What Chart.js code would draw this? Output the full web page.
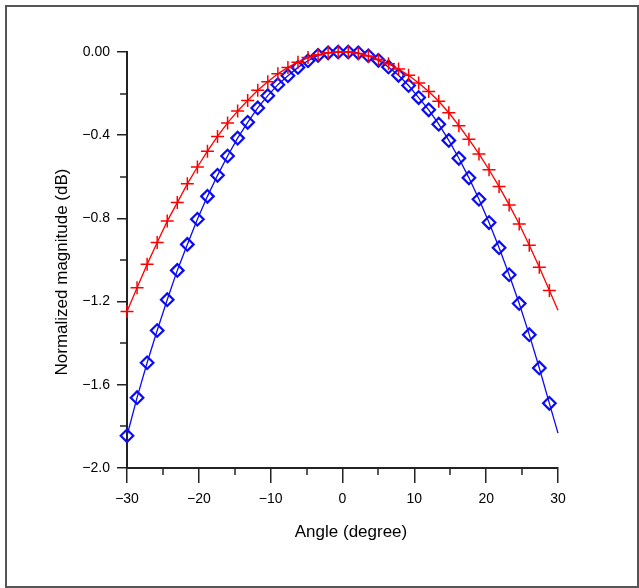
<!DOCTYPE html>
<html>
<head>
<meta charset="utf-8">
<script src="https://cdn.jsdelivr.net/npm/chart.js@4"></script>
<style>
  html, body { margin: 0; padding: 0; background: #fff; }
  #wrap { width: 639px; height: 588px; }
</style>
</head>
<body>
<div id="wrap"><canvas id="chart" width="639" height="588"></canvas></div>
<script>
// marker angles (degree)
const angles = [-30, -28.6, -27.2, -25.8, -24.4, -23, -21.6, -20.2, -18.8, -17.4, -16, -14.6, -13.2, -11.8, -10.4, -9, -7.6, -6.2, -4.8, -3.4, -2, -0.6,
                0.8, 2.2, 3.6, 5, 6.4, 7.8, 9.2, 10.6, 12, 13.4, 14.8, 16.2, 17.6, 19, 20.4, 21.8, 23.2, 24.6, 26, 27.4, 28.8];
// red curve (+ markers)
const redValues = [-1.248, -1.133, -1.021, -0.916, -0.813, -0.724, -0.634, -0.553, -0.477, -0.406, -0.341, -0.284, -0.233, -0.184, -0.143, -0.105, -0.074, -0.049, -0.027, -0.013, -0.004, 0.000,
                   0.000, -0.007, -0.019, -0.036, -0.057, -0.082, -0.112, -0.149, -0.190, -0.237, -0.292, -0.354, -0.420, -0.490, -0.566, -0.647, -0.735, -0.827, -0.929, -1.035, -1.147];
// blue curve (diamond markers)
const blueValues = [-1.845, -1.662, -1.494, -1.339, -1.191, -1.050, -0.925, -0.804, -0.694, -0.593, -0.500, -0.414, -0.338, -0.269, -0.210, -0.157, -0.114, -0.074, -0.042, -0.016, -0.004, 0.000,
                    0.000, -0.004, -0.018, -0.040, -0.072, -0.112, -0.161, -0.219, -0.278, -0.347, -0.425, -0.511, -0.605, -0.708, -0.820, -0.941, -1.071, -1.209, -1.359, -1.519, -1.689];
// curves continue to the axis end without a marker
const endAngle = 30;
const redEnd = -1.242;
const blueEnd = -1.832;

const xMinorTicks = [-25, -15, -5, 5, 15, 25];
const yMinorTicks = [-0.2, -0.6, -1.0, -1.4, -1.8];

const FONT = "'Liberation Sans', Arial, sans-serif";
const minus = s => String(s).replace('-', '\u2212');

function series(values, last) {
    const pts = angles.map((a, i) => ({ x: a, y: values[i] }));
    pts.push({ x: endAngle, y: last });
    return pts;
}
const radii = r => angles.map(() => r).concat([0]);

// frame, minor ticks and axis titles
const extras = {
    id: 'extras',
    beforeDraw(chart) {
        const c = chart.ctx;
        c.save();
        c.fillStyle = '#fff';
        c.fillRect(0, 0, chart.width, chart.height);
        c.strokeStyle = '#555';
        c.lineWidth = 2;
        c.strokeRect(6, 6, 632, 581);
        c.restore();
    },
    afterDraw(chart) {
        const c = chart.ctx;
        const xs = chart.scales.x, ys = chart.scales.y;
        c.save();
        c.strokeStyle = '#222';
        c.lineWidth = 1.5;
        c.beginPath();
        xMinorTicks.forEach(v => {
            const px = Math.round(xs.getPixelForValue(v));
            c.moveTo(px, ys.bottom);
            c.lineTo(px, ys.bottom + 7);
        });
        yMinorTicks.forEach(v => {
            const py = Math.round(ys.getPixelForValue(v));
            c.moveTo(xs.left, py);
            c.lineTo(xs.left - 7, py);
        });
        c.stroke();

        c.fillStyle = '#000';
        c.font = '17px ' + FONT;
        c.textAlign = 'center';
        c.textBaseline = 'alphabetic';
        c.fillText('Angle (degree)', 351, 537);
        c.translate(66.5, 272);
        c.rotate(-Math.PI / 2);
        c.fillText('Normalized magnitude (dB)', 0, 0);
        c.restore();
    }
};

const ctx = document.getElementById('chart').getContext('2d');
const chart = new Chart(ctx, {
    type: 'line',
    data: {
        datasets: [{
            label: 'red',
            data: series(redValues, redEnd),
            borderColor: 'rgb(255, 0, 0)',
            borderWidth: 1.3,
            pointStyle: 'cross',
            pointRadius: radii(6.5),
            pointBorderWidth: 1.5,
            pointBorderColor: 'rgb(255, 0, 0)',
            fill: false,
            clip: false,
            tension: 0
        }, {
            label: 'blue',
            data: series(blueValues, blueEnd),
            borderColor: 'rgb(10, 10, 245)',
            borderWidth: 1.3,
            pointStyle: 'rectRot',
            pointRadius: radii(6.3),
            pointBorderWidth: 2.2,
            pointBorderColor: 'rgb(10, 10, 245)',
            pointBackgroundColor: 'rgba(255, 255, 255, 0)',
            fill: false,
            clip: false,
            tension: 0
        }]
    },
    options: {
        responsive: false,
        animation: false,
        devicePixelRatio: 1,
        layout: { padding: { top: 52, right: 81, left: 0, bottom: 0 } },
        plugins: {
            legend: { display: false },
            tooltip: { enabled: false }
        },
        scales: {
            x: {
                type: 'linear',
                min: -30,
                max: 30,
                afterFit: s => { s.height = 120; },
                ticks: {
                    stepSize: 10,
                    padding: 8,
                    color: '#000',
                    font: { family: FONT, size: 14 },
                    callback: v => minus(v)
                },
                grid: { drawOnChartArea: false, drawTicks: true, tickLength: 15, color: '#222', lineWidth: 1.5 },
                border: { display: true, color: '#222', width: 2 }
            },
            y: {
                type: 'linear',
                min: -2,
                max: 0,
                afterFit: s => { s.width = 127; },
                ticks: {
                    stepSize: 0.4,
                    padding: 7,
                    color: '#000',
                    font: { family: FONT, size: 14 },
                    callback: v => v === 0 ? '0.00' : minus(v.toFixed(1))
                },
                grid: { drawOnChartArea: false, drawTicks: true, tickLength: 10, color: '#222', lineWidth: 1.5 },
                border: { display: true, color: '#222', width: 2 }
            }
        }
    },
    plugins: [extras]
});
</script>
</body>
</html>
